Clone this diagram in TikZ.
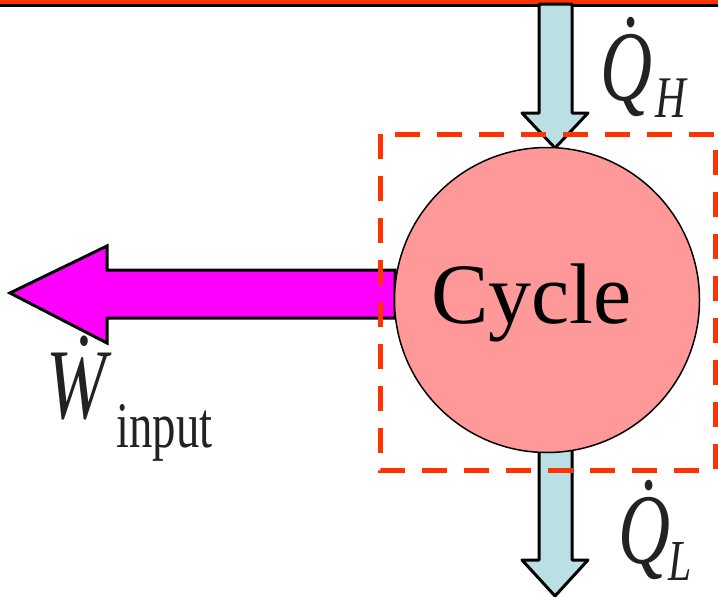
\documentclass[tikz,border=0pt]{standalone}
\usepackage{fontspec}
\setmainfont{LiberationSerif}[Extension=.ttf,UprightFont=*-Regular,ItalicFont=*-Italic,BoldFont=*-Bold]
\usepackage{graphicx}
\definecolor{hotred}{RGB}{255,51,0}
\definecolor{iceblue}{RGB}{187,224,227}
\definecolor{pinkfill}{RGB}{255,153,153}
\definecolor{purplepink}{RGB}{255,0,255}
\definecolor{inkgray}{RGB}{34,34,34}
\newcommand{\cond}[1]{\scalebox{0.72}[1]{#1}}
\begin{document}
\begin{tikzpicture}[x=1pt,y=-1pt,
  heatarrow/.style={fill=iceblue,draw=black,line width=3pt,line join=round},
  workarrow/.style={fill=purplepink,draw=black,line width=3pt,line join=miter},
  sysbound/.style={draw=hotred,line width=5pt,dash pattern=on 25pt off 17pt},
  lbl/.style={inner sep=0pt,anchor=base west,text=inkgray}]
\useasboundingbox (0,0) rectangle (718,597);
% reservoir line
\fill[hotred] (0,0) rectangle (718,4.5);
\coordinate (lineL) at (0,5.8);
\coordinate (lineR) at (718,5.8);
\draw[line width=3pt] (lineL) -- (lineR);
% heat in arrow
\draw[heatarrow] (539,4) -- (539,113) -- (522,113) -- (555,148) -- (588,113) -- (572,113) -- (572,4) -- cycle;
% heat out arrow
\draw[heatarrow] (539,445) -- (539,560) -- (522,560) -- (555,596) -- (588,560) -- (572,560) -- (572,445) -- cycle;
% work arrow
\draw[workarrow] (395,270) -- (107,270) -- (107,246) -- (10,293) -- (107,343) -- (107,318) -- (395,318) -- cycle;
% cycle
\node[circle,minimum size=305pt,inner sep=0pt,fill=pinkfill,draw=black,line width=1.5pt] (cyc) at (547,300) {};
\node[lbl,text=black,font=\fontsize{86}{86}\selectfont] (cyctext) at (431,323) {Cycle};
% system boundary
\draw[sysbound] (380,134) rectangle (715,470);
% labels
\node[lbl,font=\fontsize{100}{100}\selectfont\itshape] (qh) at (600,100) {\cond{\.{Q}}};
\node[lbl,font=\fontsize{59}{59}\selectfont\itshape] (qhs) at (655,117) {\cond{H}};
\node[lbl,font=\fontsize{100}{100}\selectfont\itshape] (ql) at (618,563) {\cond{\.{Q}}};
\node[lbl,font=\fontsize{58}{58}\selectfont\itshape] (qls) at (668,580) {\cond{L}};
\node[lbl,font=\fontsize{100}{100}\selectfont\itshape] (w) at (46,418) {\cond{\.{W}}};
\node[lbl,font=\fontsize{65}{65}\selectfont] (win) at (116,447) {\cond{input}};
\end{tikzpicture}
\end{document}
